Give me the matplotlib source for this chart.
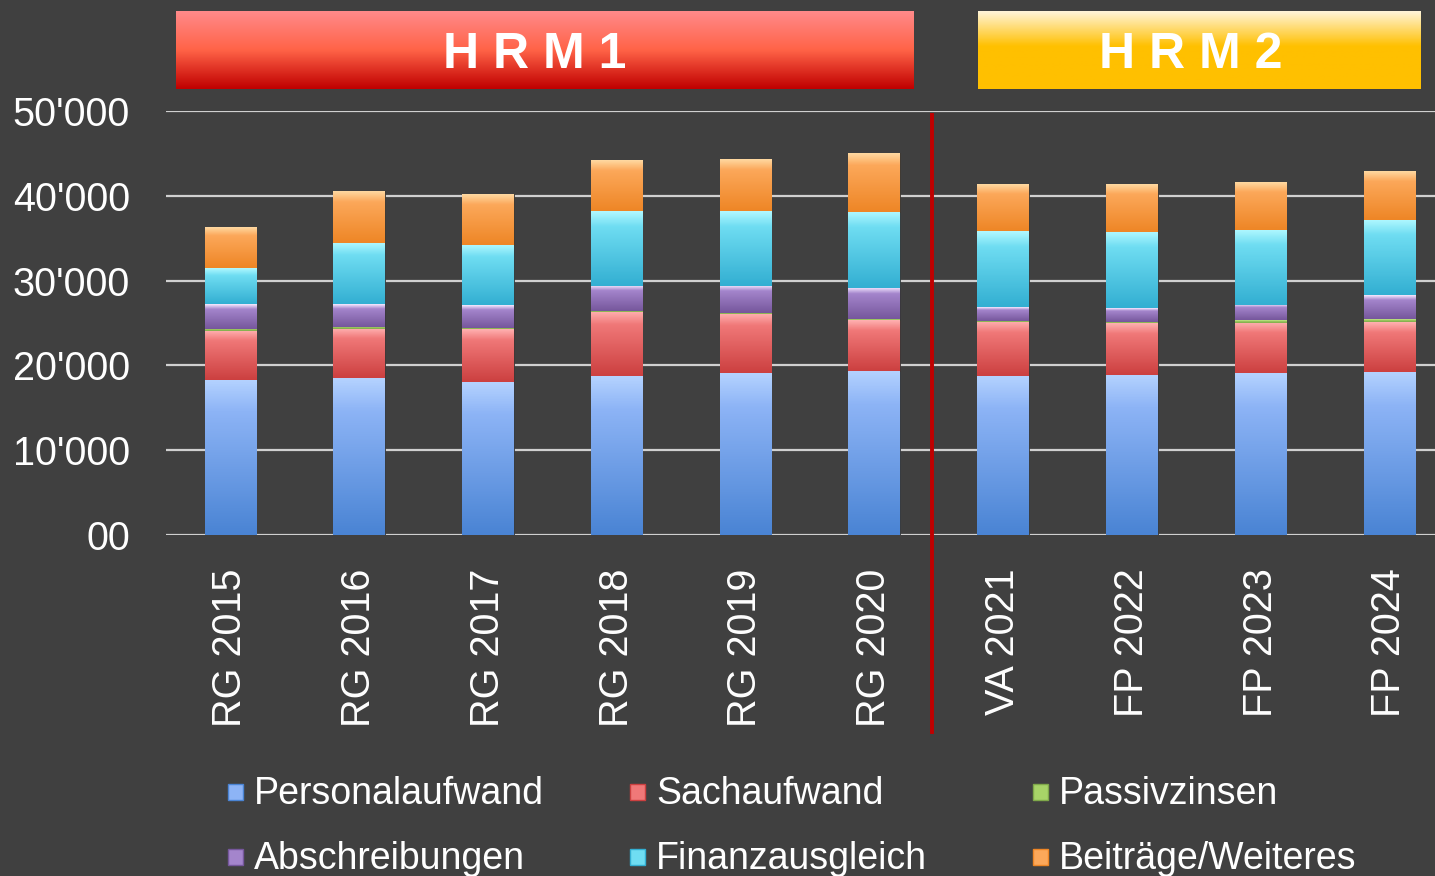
import numpy as np
import matplotlib.pyplot as plt
from matplotlib.colors import LinearSegmentedColormap
from matplotlib.patches import Rectangle

plt.rcParams['font.family'] = ['Liberation Sans', 'DejaVu Sans']

years = ["RG 2015", "RG 2016", "RG 2017", "RG 2018", "RG 2019", "RG 2020",
         "VA 2021", "FP 2022", "FP 2023", "FP 2024"]
series_names = ["Personalaufwand", "Sachaufwand", "Passivzinsen",
                "Abschreibungen", "Finanzausgleich", "Beiträge/Weiteres"]

personal = [18280, 18480, 18000, 18710, 19070, 19380, 18750, 18870, 19070, 19260]
sach = [5810, 5810, 6250, 7550, 6990, 5970, 6400, 6090, 5970, 5890]
passivzinsen = [240, 280, 160, 150, 150, 80, 120, 190, 310, 320]
abschreibungen = [2910, 2670, 2710, 2990, 3190, 3730, 1650, 1650, 1770, 2830]
finanzausgleich = [4210, 7230, 7080, 8810, 8810, 8970, 8930, 8970, 8850, 8850]
beitraege = [4830, 6100, 6010, 6010, 6130, 6880, 5540, 5620, 5660, 5770]

ytick_vals = [0, 10000, 20000, 30000, 40000, 50000]
ytick_labels = ["00", "10'000", "20'000", "30'000", "40'000", "50'000"]

# (bottom/dark, middle, top/light) per series
grad = [
    ("#4A84D4", "#8DB4F6", "#B4D2FF"),
    ("#CC4040", "#F07878", "#FFB0B0"),
    ("#7FA84A", "#A8D468", "#D8F0A8"),
    ("#76579C", "#A485CC", "#F4E8FF"),
    ("#33AFD2", "#6FDDF2", "#B0F8FF"),
    ("#EE8626", "#FCA85A", "#FFD8A0"),
]

bg = "#404040"
fig = plt.figure(figsize=(14.35, 8.76), dpi=100, facecolor=bg)
ax = fig.add_axes([166 / 1435, 1 - 535 / 876, 1 - 166 / 1435, 424 / 876])
ax.set_facecolor(bg)

x = np.arange(len(years))
data = [personal, sach, passivzinsen, abschreibungen, finanzausgleich, beitraege]
bottom = np.zeros(len(years))
grad_img = np.linspace(0, 1, 64).reshape(-1, 1)
for vals, name, g in zip(data, series_names, grad):
    bars = ax.bar(x, vals, width=0.4, bottom=bottom, color=g[1], label=name,
                  edgecolor="#303030", linewidth=0.6, zorder=2)
    cmap = LinearSegmentedColormap.from_list(name, [(0, g[0]), (0.8, g[1]), (1, g[2])])
    for p in bars:
        x0, y0 = p.get_x(), p.get_y()
        im = ax.imshow(grad_img, cmap=cmap, origin="lower", aspect="auto",
                       extent=(x0, x0 + p.get_width(), y0, y0 + p.get_height()),
                       zorder=2.5)
        im.set_clip_path(p)
    bottom += np.array(vals)

ax.set_xlim(-0.5, 9.355)
ax.set_ylim(0, 50000)
ax.set_yticks(ytick_vals)
ax.set_yticklabels(ytick_labels)
ax.set_xticks(x)
ax.set_xticklabels(years, rotation=90)
ax.tick_params(axis="both", length=0, colors="white", labelsize=28.5)
ax.tick_params(axis="y", pad=26)
ax.tick_params(axis="x", pad=24)
for s in ax.spines.values():
    s.set_visible(False)
ax.set_axisbelow(True)
ax.yaxis.grid(True, color="#D0D0D0", linewidth=1.6)

# HRM1 / HRM2 separator
ax.axvline(5.45, ymin=-0.465, ymax=0.99, color="#C00000", linewidth=2.8,
           clip_on=False, zorder=3)

# header boxes
def header(rect, colors, text, tx):
    hax = fig.add_axes(rect)
    cm = LinearSegmentedColormap.from_list(text, colors)
    hax.imshow(np.linspace(0, 1, 100).reshape(-1, 1), cmap=cm, aspect="auto",
               extent=(0, 1, 0, 1))
    hax.set_xlim(0, 1)
    hax.set_ylim(0, 1)
    hax.axis("off")
    hax.text(tx, 0.43, text, color="white", fontsize=36, fontweight="bold",
             ha="center", va="center")

header([176 / 1435, 1 - 89 / 876, 737 / 1435, 78 / 876],
       [(0, "#FF8A8A"), (0.5, "#FF6347"), (1, "#C00000")], "H R M 1", 0.487)
header([978 / 1435, 1 - 89 / 876, 443 / 1435, 78 / 876],
       [(0, "#FFF4D8"), (0.45, "#FFC000"), (1, "#FFC000")], "H R M 2", 0.48)

# legend
col_x = [228, 630, 1033]
row_y = [794, 859]
for i, (name, g) in enumerate(zip(series_names, grad)):
    cx = col_x[i % 3]
    cy = row_y[i // 3]
    fig.add_artist(Rectangle((cx / 1435, 1 - (cy + 6) / 876), 15 / 1435, 16 / 876,
                             transform=fig.transFigure, facecolor=g[1],
                             edgecolor=g[0], linewidth=1))
    fig.text((cx + 26) / 1435, 1 - cy / 876, name, color="white", fontsize=27,
             ha="left", va="center")

fig.savefig("out.png", dpi=100, facecolor=bg)
